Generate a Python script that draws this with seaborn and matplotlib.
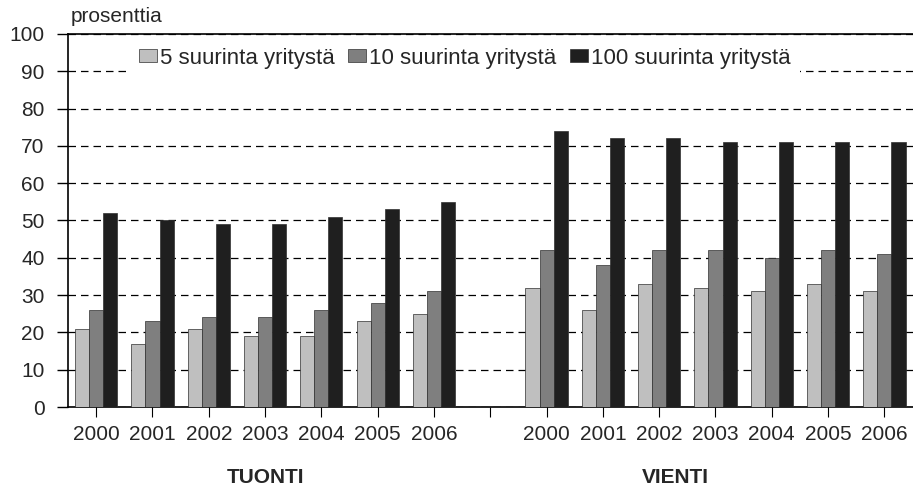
import pandas as pd
import seaborn as sns
import matplotlib.pyplot as plt

# Values (percent)
years = ['2000', '2001', '2002', '2003', '2004', '2005', '2006']
series = ['5 suurinta yritystä', '10 suurinta yritystä', '100 suurinta yritystä']
tuonti_5 = [21, 17, 21, 19, 19, 23, 25]
tuonti_10 = [26, 23, 24, 24, 26, 28, 31]
tuonti_100 = [52, 50, 49, 49, 51, 53, 55]
vienti_5 = [32, 26, 33, 32, 31, 33, 31]
vienti_10 = [42, 38, 42, 42, 40, 42, 41]
vienti_100 = [74, 72, 72, 71, 71, 71, 71]
groups = ['TUONTI', 'VIENTI']

# Long format; one empty slot between the two groups
rows = []
for g, (s5, s10, s100) in enumerate([(tuonti_5, tuonti_10, tuonti_100),
                                      (vienti_5, vienti_10, vienti_100)]):
    for i, y in enumerate(years):
        slot = g * (len(years) + 1) + i
        for name, vals in zip(series, (s5, s10, s100)):
            rows.append({'slot': slot, 'series': name, 'value': vals[i]})
df = pd.DataFrame(rows)
order = list(range(2 * len(years) + 1))
tick_labels = years + [''] + years

sns.set_style('white')
plt.rcParams['font.family'] = ['Liberation Sans', 'DejaVu Sans']

fig = plt.figure(figsize=(9.13, 4.91), dpi=100)
ax = fig.add_axes([0.0745, 0.171, 0.925, 0.76])

palette = ['#bfbfbf', '#7f7f7f', '#1f1f1f']
sns.barplot(data=df, x='slot', y='value', hue='series', order=order,
            hue_order=series, palette=palette, width=0.75,
            edgecolor='#303030', linewidth=0.5, ax=ax, zorder=3)

ax.set_ylim(0, 100)
ax.set_xlim(-0.5, len(order) - 0.5)
ax.set_yticks(range(0, 101, 10))
ax.set_xticks(order)
ax.set_xticklabels(tick_labels)
ax.tick_params(axis='y', direction='out', length=8, width=1, color='black',
               labelsize=15, pad=9, left=True)
ax.tick_params(axis='x', direction='out', length=7, width=0.8, color='black',
               labelsize=15, pad=6, bottom=True)
ax.set_xlabel('')
ax.set_ylabel('')
ax.yaxis.grid(True, linestyle=(0, (6, 4)), color='black', linewidth=0.9)
ax.set_axisbelow(True)

for side in ['left', 'bottom', 'top']:
    ax.spines[side].set_color('black')
    ax.spines[side].set_linewidth(1.2)
ax.spines['right'].set_visible(False)

ax.text(0.003, 1.032, 'prosenttia', transform=ax.transAxes, fontsize=15,
        ha='left', va='baseline')

# Group labels under the year labels
for xpos, name in zip([3.0, 10.28], groups):
    ax.text(xpos, -19, name, ha='center', va='center', fontsize=15,
            fontweight='bold', clip_on=False)

leg = ax.legend(loc='center', bbox_to_anchor=(0.47, 0.935), ncol=3,
                fontsize=16, frameon=True, edgecolor='none', framealpha=1,
                fancybox=False, handlelength=0.8, handleheight=0.5,
                handletextpad=0.15, columnspacing=0.6, borderpad=0.4)
leg.set_zorder(5)

plt.savefig('out.png', dpi=100)
